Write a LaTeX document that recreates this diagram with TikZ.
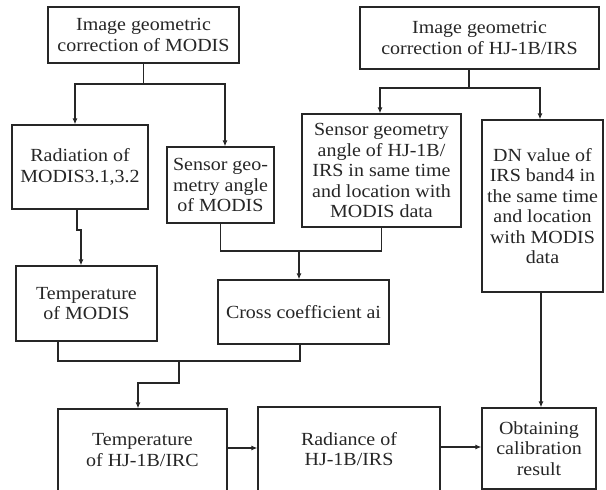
\documentclass[tikz,border=0pt]{standalone}
\usepackage{fontspec}
\setmainfont{Liberation Serif}[FakeStretch=1.08]
\usetikzlibrary{arrows.meta,calc}
\begin{document}
\begin{tikzpicture}[x=1pt,y=-1pt,
  box/.style={draw=black!85,line width=1.2pt,inner sep=0pt,align=center,
    font=\fontsize{18.5pt}{20.5pt}\selectfont,text=black!85},
  conn/.style={draw=black!85,line width=1.2pt},
  arr/.style={conn,-{Latex[length=6pt,width=5pt]}}]
\useasboundingbox (0,0) rectangle (606,490);
\fill[white] (0,0) rectangle (606,490);
% boxes: (x1,y1)-(x2,y2)
\node[box,minimum width=191pt,minimum height=56pt] (mgeo) at (143.5,35) {Image geometric\\correction of MODIS};
\node[box,minimum width=239pt,minimum height=62pt] (hgeo) at (479.5,38) {Image geometric\\correction of HJ-1B/IRS};
\node[box,minimum width=136pt,minimum height=84pt] (rad) at (80,167) {Radiation of\\MODIS3.1,3.2};
\node[box,minimum width=107pt,minimum height=76pt] (smod) at (220.5,185) {Sensor geo-\\metry angle\\of MODIS};
\node[box,minimum width=159pt,minimum height=113pt] (shj) at (381.5,170.5) {Sensor geometry\\angle of HJ-1B/\\IRS in same time\\and location with\\MODIS data};
\node[box,minimum width=121pt,minimum height=172pt] (dn) at (542.5,206) {DN value of\\IRS band4 in\\the same time\\and location\\with MODIS\\data};
\node[box,minimum width=141pt,minimum height=75pt] (tmod) at (86.5,303.5) {Temperature\\of MODIS};
\node[box,minimum width=171pt,minimum height=64pt] (cross) at (303.5,312) {Cross coefficient ai};
\node[box,minimum width=169pt,minimum height=82pt] (thj) at (142.5,450) {Temperature\\of HJ-1B/IRC};
\node[box,minimum width=182pt,minimum height=84pt] (radhj) at (349,449) {Radiance of\\HJ-1B/IRS};
\node[box,minimum width=114pt,minimum height=81pt] (obt) at (539,448.5) {Obtaining\\calibration\\result};
% connectors
\coordinate (b1) at (143.5,84);
\draw[conn] (mgeo.south) -- (b1);
\draw[arr] (b1) -| (75,0 |- rad.north);
\draw[arr] (b1) -| (smod.north -| 225,0);
\coordinate (b2) at (469,88);
\draw[conn] (hgeo.south -| b2) -- (b2);
\draw[arr] (b2) -| (shj.north -| 380,0);
\draw[arr] (b2) -| (dn.north -| 540,0);
\coordinate (j1) at (77,230);
\draw[arr] (rad.south -| j1) -- (j1) -- (81,230) -- (tmod.north -| 81,0);
\coordinate (b3) at (299,251);
\draw[conn] (smod.south) -- (smod.south |- b3) -- (shj.south |- b3) -- (shj.south);
\draw[arr] (b3) -- (cross.north -| b3);
\coordinate (b4) at (179,361);
\draw[conn] (tmod.south -| 58,0) -- (58,361) -- (300,361) -- (cross.south -| 300,0);
\draw[arr] (b4) -- (179,383) -| (thj.north -| 138,0);
\draw[arr] (thj.east |- 0,448) -- (radhj.west |- 0,448);
\draw[arr] (radhj.east |- 0,447) -- (obt.west |- 0,447);
\draw[arr] (dn.south -| 541,0) -- (obt.north -| 541,0);
\end{tikzpicture}
\end{document}
